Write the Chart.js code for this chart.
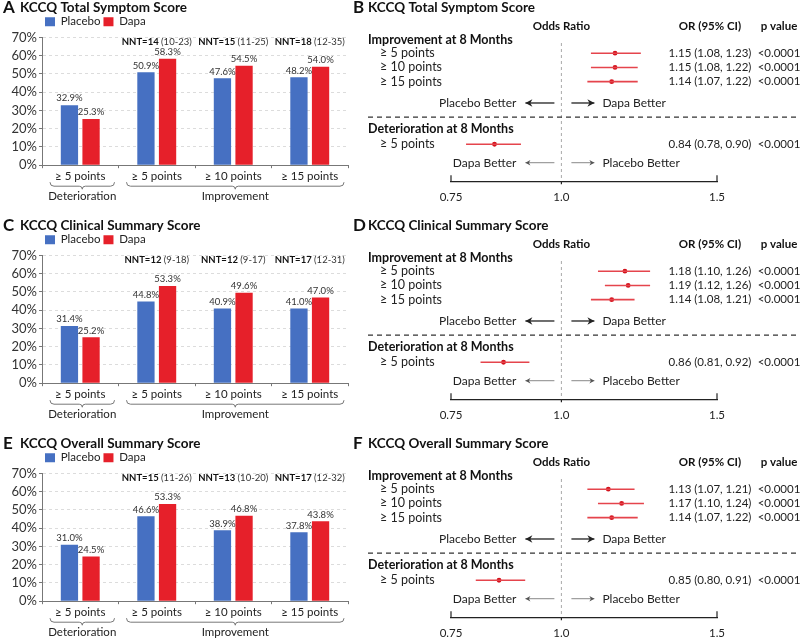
<!DOCTYPE html>
<html>
<head>
<meta charset="utf-8">
<script src="https://cdn.jsdelivr.net/npm/chart.js@4.4.1/dist/chart.umd.min.js"></script>
<style>
  body { margin: 0; background: #fff; width: 800px; height: 639px; overflow: hidden; position: relative; }
  canvas { position: absolute; }
</style>
</head>
<body>
<canvas id="barA" width="350" height="205" style="left:0;top:0"></canvas>
<canvas id="forB" width="450" height="214" style="left:350px;top:0"></canvas>
<canvas id="barC" width="350" height="205" style="left:0;top:218px"></canvas>
<canvas id="forD" width="450" height="214" style="left:350px;top:218px"></canvas>
<canvas id="barE" width="350" height="205" style="left:0;top:436px"></canvas>
<canvas id="forF" width="450" height="214" style="left:350px;top:436px"></canvas>
<script>
// bar panels (A, C, E)
const barLabels = ['≥ 5 points', '≥ 5 points', '≥ 10 points', '≥ 15 points'];
const groupLabels = ['Deterioration', 'Improvement'];
const seriesNames = ['Placebo', 'Dapa'];
const yTicks = [0, 10, 20, 30, 40, 50, 60, 70];

const tssPlacebo = [32.9, 50.9, 47.6, 48.2];
const tssDapa = [25.3, 58.3, 54.5, 54.0];
const tssNnt = ['NNT=14', 'NNT=15', 'NNT=18'];
const tssNntCi = ['(10-23)', '(11-25)', '(12-35)'];

const cssPlacebo = [31.4, 44.8, 40.9, 41.0];
const cssDapa = [25.2, 53.3, 49.6, 47.0];
const cssNnt = ['NNT=12', 'NNT=12', 'NNT=17'];
const cssNntCi = ['(9-18)', '(9-17)', '(12-31)'];

const ossPlacebo = [31.0, 46.6, 38.9, 37.8];
const ossDapa = [24.5, 53.3, 46.8, 43.8];
const ossNnt = ['NNT=15', 'NNT=13', 'NNT=17'];
const ossNntCi = ['(11-26)', '(10-20)', '(12-32)'];

// forest panels (B, D, F)
const rowLabels = ['≥ 5 points', '≥ 10 points', '≥ 15 points', '≥ 5 points'];
const orTicks = [0.75, 1.0, 1.5];
const orTickLabels = ['0.75', '1.0', '1.5'];

const tssOr = [1.15, 1.15, 1.14, 0.84];
const tssLo = [1.08, 1.08, 1.07, 0.78];
const tssHi = [1.23, 1.22, 1.22, 0.90];
const tssP = ['<0.0001', '<0.0001', '<0.0001', '<0.0001'];

const cssOr = [1.18, 1.19, 1.14, 0.86];
const cssLo = [1.10, 1.12, 1.08, 0.81];
const cssHi = [1.26, 1.26, 1.21, 0.92];
const cssP = ['<0.0001', '<0.0001', '<0.0001', '<0.0001'];

const ossOr = [1.13, 1.17, 1.14, 0.85];
const ossLo = [1.07, 1.10, 1.07, 0.80];
const ossHi = [1.21, 1.24, 1.22, 0.91];
const ossP = ['<0.0001', '<0.0001', '<0.0001', '<0.0001'];

const FONT = 'Lato, "Open Sans", sans-serif';
const BLUE = '#4670C2';
const RED = '#E6202A';

// row slots on the hidden y axis of the forest plots
const rowSlots = [1, 2, 3, 7.4];

Chart.defaults.font.family = FONT;
Chart.defaults.color = '#222';

function line(ctx, x1, y1, x2, y2) {
  ctx.beginPath(); ctx.moveTo(x1, y1); ctx.lineTo(x2, y2); ctx.stroke();
}

function drawBrace(ctx, l, r, t) {
  const m = (l + r) / 2;
  ctx.beginPath();
  ctx.moveTo(l, t);
  ctx.quadraticCurveTo(l, t + 4, l + 4, t + 4);
  ctx.lineTo(m - 3, t + 4);
  ctx.quadraticCurveTo(m, t + 4, m, t + 7);
  ctx.quadraticCurveTo(m, t + 4, m + 3, t + 4);
  ctx.lineTo(r - 4, t + 4);
  ctx.quadraticCurveTo(r, t + 4, r, t);
  ctx.stroke();
}

function panelTitle(ctx, letter, title, tx) {
  ctx.textAlign = 'left';
  ctx.textBaseline = 'middle';
  ctx.fillStyle = '#111';
  ctx.font = 'bold 17px ' + FONT;
  ctx.fillText(letter, 3, 8);
  ctx.font = 'bold 13.5px ' + FONT;
  ctx.fillText(title, tx, 8);
}

const barExtras = {
  id: 'barExtras',
  afterDatasetsDraw(chart, args, o) {
    const ctx = chart.ctx;
    const xs = chart.scales.x, ys = chart.scales.y;
    ctx.save();
    panelTitle(ctx, o.letter, o.title, 20);

    // value labels on top of bars
    ctx.font = '9.5px ' + FONT;
    ctx.fillStyle = '#333';
    ctx.textAlign = 'center';
    ctx.textBaseline = 'bottom';
    chart.data.datasets.forEach((ds, di) => {
      chart.getDatasetMeta(di).data.forEach((bar, i) => {
        ctx.fillText(ds.data[i].toFixed(1) + '%', bar.x, bar.y - 2);
      });
    });

    // NNT labels above improvement groups
    ctx.textAlign = 'left';
    ctx.textBaseline = 'middle';
    o.nnt.forEach((n, k) => {
      const cx = xs.getPixelForValue(k + 1);
      const cy = ys.getPixelForValue(67.3);
      ctx.font = 'bold 9.5px ' + FONT;
      const w1 = ctx.measureText(n).width;
      ctx.font = '9.5px ' + FONT;
      const w2 = ctx.measureText(' ' + o.nntCi[k]).width;
      const sx = cx - (w1 + w2) / 2;
      ctx.fillStyle = '#111';
      ctx.font = 'bold 9.5px ' + FONT;
      ctx.fillText(n, sx, cy);
      ctx.fillStyle = '#333';
      ctx.font = '9.5px ' + FONT;
      ctx.fillText(' ' + o.nntCi[k], sx + w1, cy);
    });

    // braces and group labels
    const half = (xs.getPixelForValue(1) - xs.getPixelForValue(0)) / 2;
    const t = chart.chartArea.bottom + 17;
    ctx.strokeStyle = '#777';
    ctx.lineWidth = 1;
    ctx.fillStyle = '#222';
    ctx.font = '11.5px ' + FONT;
    ctx.textAlign = 'center';
    [[0, 0], [1, 3]].forEach(([a, b], g) => {
      const l = xs.getPixelForValue(a) - half + 8;
      const r = xs.getPixelForValue(b) + half - 4;
      drawBrace(ctx, l, r, t);
      ctx.fillText(groupLabels[g], (l + r) / 2, t + 14);
    });
    ctx.restore();
  }
};

function barChart(id, letter, title, placebo, dapa, nnt, nntCi) {
  new Chart(document.getElementById(id), {
    type: 'bar',
    data: {
      labels: barLabels,
      datasets: [
        { label: seriesNames[0], data: placebo, backgroundColor: BLUE, borderWidth: 0 },
        { label: seriesNames[1], data: dapa, backgroundColor: RED, borderWidth: 0 }
      ]
    },
    options: {
      responsive: false,
      animation: false,
      categoryPercentage: 0.565,
      barPercentage: 0.8,
      layout: { padding: { top: 13, left: 0, right: 2, bottom: 21 } },
      plugins: {
        legend: {
          position: 'top',
          align: 'start',
          fullSize: false,
          labels: { boxWidth: 10, boxHeight: 9, padding: 3, color: '#222', font: { size: 11.5 } }
        },
        tooltip: { enabled: false },
        barExtras: { letter, title, nnt, nntCi }
      },
      scales: {
        x: {
          grid: { drawOnChartArea: false, color: '#777', tickLength: 3 },
          border: { color: '#777' },
          ticks: { padding: 1, color: '#222', font: { size: 11.5 }, maxRotation: 0, autoSkip: false }
        },
        y: {
          min: 0, max: 70,
          afterBuildTicks: s => { s.ticks = yTicks.map(v => ({ value: v })); },
          afterFit: s => { s.width = 42; },
          grid: {
            color: c => c.tick && c.tick.value === 0 ? 'rgba(0,0,0,0)' : '#dcdcdc',
            tickColor: '#777', tickLength: 3
          },
          border: { color: '#777', dash: [3, 3] },
          ticks: { padding: 2, color: '#333', font: { size: 13 }, autoSkip: false, callback: v => v + '%' }
        }
      }
    },
    plugins: [barExtras]
  });
}

function arrow(ctx, x1, x2, y, head) {
  line(ctx, x1, y, x2, y);
  const d = x2 > x1 ? 1 : -1;
  ctx.beginPath();
  ctx.moveTo(x2, y);
  ctx.lineTo(x2 - d * head, y - head * 0.55);
  ctx.lineTo(x2 - d * head * 0.7, y);
  ctx.lineTo(x2 - d * head, y + head * 0.55);
  ctx.closePath();
  ctx.fill();
}

const forestExtras = {
  id: 'forestExtras',
  beforeDatasetsDraw(chart, args, o) {
    const ctx = chart.ctx;
    const ca = chart.chartArea;
    const xs = chart.scales.x, ys = chart.scales.y;
    const c = xs.getPixelForValue(1);
    ctx.save();
    panelTitle(ctx, o.letter, o.title, 18);

    // reference line at OR = 1
    ctx.strokeStyle = '#aaa';
    ctx.lineWidth = 1;
    ctx.setLineDash([3, 3]);
    line(ctx, c, ca.top + 4, c, ca.bottom);
    // separator between improvement and deterioration
    ctx.strokeStyle = '#333';
    ctx.lineWidth = 1.2;
    ctx.setLineDash([5, 4]);
    const sy = ys.getPixelForValue(5.5);
    line(ctx, 18, sy, chart.width, sy);
    ctx.setLineDash([]);

    // inward tick marks on the axis
    ctx.strokeStyle = '#222';
    [orTicks[0], orTicks[2]].forEach(v => {
      const px = xs.getPixelForValue(v);
      line(ctx, px, ca.bottom, px, ca.bottom - 6);
    });
    line(ctx, c, ca.bottom, c, ca.bottom + 3);

    // headers
    ctx.fillStyle = '#111';
    ctx.textBaseline = 'middle';
    ctx.font = 'bold 11.5px ' + FONT;
    ctx.textAlign = 'center';
    const hy = ys.getPixelForValue(-0.9);
    ctx.fillText('Odds Ratio', c, hy);
    ctx.fillText('OR (95% CI)', 360, hy);
    ctx.fillText('p value', 429, hy);
    ctx.textAlign = 'left';
    ctx.font = 'bold 12.5px ' + FONT;
    ctx.fillText('Improvement at 8 Months', 18, ys.getPixelForValue(0.07));
    ctx.fillText('Deterioration at 8 Months', 18, ys.getPixelForValue(6.3));

    // rows
    ctx.fillStyle = '#222';
    rowLabels.forEach((lab, i) => {
      const ry = ys.getPixelForValue(rowSlots[i]);
      ctx.font = '12.5px ' + FONT;
      ctx.textAlign = 'left';
      ctx.fillText(lab, 30, ry);
      ctx.font = '11.5px ' + FONT;
      ctx.textAlign = 'center';
      ctx.fillText(o.or[i].toFixed(2) + ' (' + o.lo[i].toFixed(2) + ', ' + o.hi[i].toFixed(2) + ')', 360, ry);
      ctx.fillText(o.p[i], 429, ry);
    });

    // direction arrows
    const a1 = ys.getPixelForValue(4.5), a2 = ys.getPixelForValue(8.7);
    ctx.font = '12px ' + FONT;
    ctx.textAlign = 'right';
    ctx.fillText('Placebo Better', c - 45, a1);
    ctx.fillText('Dapa Better', c - 45, a2);
    ctx.textAlign = 'left';
    ctx.fillText('Dapa Better', c + 41, a1);
    ctx.fillText('Placebo Better', c + 41, a2);
    ctx.strokeStyle = '#222'; ctx.fillStyle = '#222'; ctx.lineWidth = 1.3;
    arrow(ctx, c - 7, c - 36, a1, 7);
    arrow(ctx, c + 10, c + 33, a1, 7);
    ctx.strokeStyle = '#888'; ctx.fillStyle = '#555'; ctx.lineWidth = 1;
    arrow(ctx, c - 7, c - 36, a2, 5);
    arrow(ctx, c + 10, c + 33, a2, 5);
    ctx.restore();
  }
};

function forestChart(id, letter, title, or, lo, hi, p) {
  const ciSets = or.map((v, i) => ({
    data: [{ x: lo[i], y: rowSlots[i] }, { x: hi[i], y: rowSlots[i] }],
    showLine: true, borderColor: '#E5444C', borderWidth: 1.6, pointRadius: 0
  }));
  const points = {
    data: or.map((v, i) => ({ x: v, y: rowSlots[i] })),
    pointRadius: 2.4, backgroundColor: '#D3121C', borderWidth: 0
  };
  new Chart(document.getElementById(id), {
    type: 'scatter',
    data: { datasets: [...ciSets, points] },
    options: {
      responsive: false,
      animation: false,
      layout: { padding: { top: 39, left: 101, right: 83, bottom: 1 } },
      plugins: {
        legend: { display: false },
        tooltip: { enabled: false },
        forestExtras: { letter, title, or, lo, hi, p }
      },
      scales: {
        x: {
          type: 'logarithmic',
          min: orTicks[0], max: orTicks[2],
          afterBuildTicks: s => { s.ticks = orTicks.map(v => ({ value: v })); },
          grid: { drawOnChartArea: false, drawTicks: false },
          border: { color: '#222', width: 1.3 },
          ticks: { padding: 9, color: '#222', font: { size: 11.5 }, maxRotation: 0, autoSkip: false,
                   callback: (v, i) => orTickLabels[i] }
        },
        y: { display: false, min: 0, max: 10, reverse: true }
      }
    },
    plugins: [forestExtras]
  });
}

barChart('barA', 'A', 'KCCQ Total Symptom Score', tssPlacebo, tssDapa, tssNnt, tssNntCi);
barChart('barC', 'C', 'KCCQ Clinical Summary Score', cssPlacebo, cssDapa, cssNnt, cssNntCi);
barChart('barE', 'E', 'KCCQ Overall Summary Score', ossPlacebo, ossDapa, ossNnt, ossNntCi);
forestChart('forB', 'B', 'KCCQ Total Symptom Score', tssOr, tssLo, tssHi, tssP);
forestChart('forD', 'D', 'KCCQ Clinical Summary Score', cssOr, cssLo, cssHi, cssP);
forestChart('forF', 'F', 'KCCQ Overall Summary Score', ossOr, ossLo, ossHi, ossP);
</script>
</body>
</html>
